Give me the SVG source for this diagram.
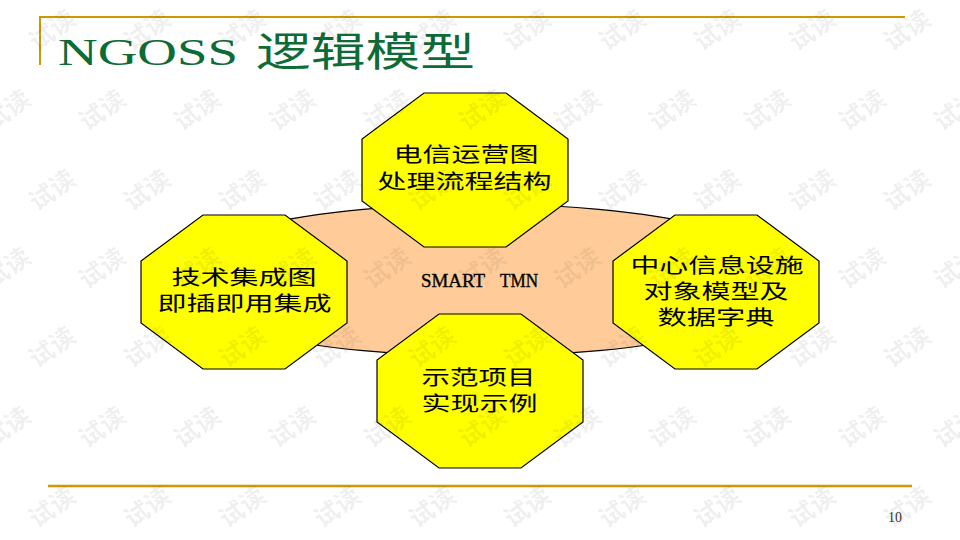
<svg xmlns="http://www.w3.org/2000/svg" xmlns:xlink="http://www.w3.org/1999/xlink" width="960" height="540" viewBox="0 0 960 540">
<style>
.rule{stroke:#CC9900;fill:none}
.oct{fill:#FFFF00;stroke:#000;stroke-width:1.2}
.cjk{font-family:"Noto Sans CJK SC","Noto Sans",sans-serif;font-size:20px;fill:#000}
.lat{font-family:"Liberation Serif",serif;font-size:19px;fill:#000;stroke:#000;stroke-width:0.35}
.wm{font-family:"Noto Sans CJK SC",sans-serif;font-size:25px;font-weight:bold;fill:#000;fill-opacity:0.07}
</style>
<defs>
<path id="octShape" d="M-41,-77 L41,-77 L103,-31 L103,31 L41,77 L-41,77 L-103,31 L-103,-31 Z"/>
<text id="wm" class="wm" transform="rotate(-35)" text-anchor="middle" y="9">试读</text>
</defs>
<rect width="960" height="540" fill="#fff"/>
<g id="frame">
<path class="rule" stroke-width="2" d="M40,17 H905 M40,16 V65"/>
<path class="rule" stroke-width="2.6" d="M48,486 H912"/>
</g>
<g id="title">
<text x="58" y="65" font-family="Liberation Serif,serif" font-size="38" fill="#0D6B36" textLength="180" lengthAdjust="spacingAndGlyphs">NGOSS</text>
<text x="256" y="66" font-family="Noto Sans CJK SC,sans-serif" font-size="40" fill="#0D6B36" textLength="219" lengthAdjust="spacingAndGlyphs">逻辑模型</text>
</g>
<g id="connectors"></g>
<g id="node-smart-tmn">
<ellipse cx="481" cy="280" rx="320" ry="76" fill="#FFCC99" stroke="#000" stroke-width="1.2"/>
<text class="lat" y="287"><tspan x="421" textLength="64" lengthAdjust="spacingAndGlyphs">SMART</tspan><tspan x="500" textLength="38" lengthAdjust="spacingAndGlyphs">TMN</tspan></text>
</g>
<g id="node-top">
<use xlink:href="#octShape" href="#octShape" class="oct" transform="translate(465,170)"/>
<text class="cjk" x="393.5" y="162" textLength="145" lengthAdjust="spacingAndGlyphs">电信运营图</text>
<text class="cjk" x="377.5" y="189" textLength="174" lengthAdjust="spacingAndGlyphs">处理流程结构</text>
</g>
<g id="node-left">
<use xlink:href="#octShape" href="#octShape" class="oct" transform="translate(244,292)"/>
<text class="cjk" x="171.5" y="285" textLength="145" lengthAdjust="spacingAndGlyphs">技术集成图</text>
<text class="cjk" x="157.5" y="311" textLength="174" lengthAdjust="spacingAndGlyphs">即插即用集成</text>
</g>
<g id="node-right">
<use xlink:href="#octShape" href="#octShape" class="oct" transform="translate(716,292)"/>
<text class="cjk" x="630.5" y="273" textLength="173" lengthAdjust="spacingAndGlyphs">中心信息设施</text>
<text class="cjk" x="643.5" y="299" textLength="145" lengthAdjust="spacingAndGlyphs">对象模型及</text>
<text class="cjk" x="657.5" y="325" textLength="117" lengthAdjust="spacingAndGlyphs">数据字典</text>
</g>
<g id="node-bottom">
<use xlink:href="#octShape" href="#octShape" class="oct" transform="translate(480,391)"/>
<text class="cjk" x="421.5" y="385" textLength="114" lengthAdjust="spacingAndGlyphs">示范项目</text>
<text class="cjk" x="421.5" y="411" textLength="116" lengthAdjust="spacingAndGlyphs">实现示例</text>
</g>
<text id="page-number" x="888" y="522" font-family="Liberation Serif,serif" font-size="14" fill="#333">10</text>
<g id="watermarks">
<use href="#wm" transform="translate(52,30)"/><use href="#wm" transform="translate(147,30)"/><use href="#wm" transform="translate(242,30)"/><use href="#wm" transform="translate(337,30)"/><use href="#wm" transform="translate(432,30)"/><use href="#wm" transform="translate(527,30)"/><use href="#wm" transform="translate(622,30)"/><use href="#wm" transform="translate(717,30)"/><use href="#wm" transform="translate(812,30)"/><use href="#wm" transform="translate(907,30)"/>
<use href="#wm" transform="translate(7,110)"/><use href="#wm" transform="translate(102,110)"/><use href="#wm" transform="translate(197,110)"/><use href="#wm" transform="translate(292,110)"/><use href="#wm" transform="translate(387,110)"/><use href="#wm" transform="translate(482,110)"/><use href="#wm" transform="translate(577,110)"/><use href="#wm" transform="translate(672,110)"/><use href="#wm" transform="translate(767,110)"/><use href="#wm" transform="translate(862,110)"/><use href="#wm" transform="translate(957,110)"/>
<use href="#wm" transform="translate(52,190)"/><use href="#wm" transform="translate(147,190)"/><use href="#wm" transform="translate(242,190)"/><use href="#wm" transform="translate(337,190)"/><use href="#wm" transform="translate(432,190)"/><use href="#wm" transform="translate(527,190)"/><use href="#wm" transform="translate(622,190)"/><use href="#wm" transform="translate(717,190)"/><use href="#wm" transform="translate(812,190)"/><use href="#wm" transform="translate(907,190)"/>
<use href="#wm" transform="translate(7,268)"/><use href="#wm" transform="translate(102,268)"/><use href="#wm" transform="translate(197,268)"/><use href="#wm" transform="translate(292,268)"/><use href="#wm" transform="translate(387,268)"/><use href="#wm" transform="translate(482,268)"/><use href="#wm" transform="translate(577,268)"/><use href="#wm" transform="translate(672,268)"/><use href="#wm" transform="translate(767,268)"/><use href="#wm" transform="translate(862,268)"/><use href="#wm" transform="translate(957,268)"/>
<use href="#wm" transform="translate(52,347)"/><use href="#wm" transform="translate(147,347)"/><use href="#wm" transform="translate(242,347)"/><use href="#wm" transform="translate(337,347)"/><use href="#wm" transform="translate(432,347)"/><use href="#wm" transform="translate(527,347)"/><use href="#wm" transform="translate(622,347)"/><use href="#wm" transform="translate(717,347)"/><use href="#wm" transform="translate(812,347)"/><use href="#wm" transform="translate(907,347)"/>
<use href="#wm" transform="translate(7,427)"/><use href="#wm" transform="translate(102,427)"/><use href="#wm" transform="translate(197,427)"/><use href="#wm" transform="translate(292,427)"/><use href="#wm" transform="translate(387,427)"/><use href="#wm" transform="translate(482,427)"/><use href="#wm" transform="translate(577,427)"/><use href="#wm" transform="translate(672,427)"/><use href="#wm" transform="translate(767,427)"/><use href="#wm" transform="translate(862,427)"/><use href="#wm" transform="translate(957,427)"/>
<use href="#wm" transform="translate(52,507)"/><use href="#wm" transform="translate(147,507)"/><use href="#wm" transform="translate(242,507)"/><use href="#wm" transform="translate(337,507)"/><use href="#wm" transform="translate(432,507)"/><use href="#wm" transform="translate(527,507)"/><use href="#wm" transform="translate(622,507)"/><use href="#wm" transform="translate(717,507)"/><use href="#wm" transform="translate(812,507)"/><use href="#wm" transform="translate(907,507)"/>
</g>
</svg>
